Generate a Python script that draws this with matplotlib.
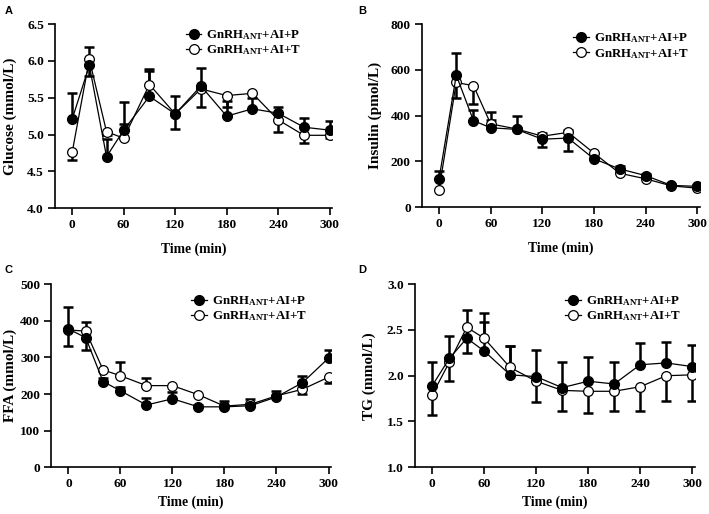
import numpy as np
import matplotlib
matplotlib.use('Agg')
from matplotlib import pyplot as plt

plt.rcParams['font.family'] = ['Liberation Serif', 'DejaVu Serif']
plt.rcParams['font.weight'] = 'bold'
plt.rcParams['axes.labelweight'] = 'bold'
plt.rcParams['mathtext.fontset'] = 'custom'
plt.rcParams['mathtext.rm'] = 'Liberation Serif:bold'
plt.rcParams['mathtext.it'] = 'Liberation Serif:bold'
plt.rcParams['mathtext.bf'] = 'Liberation Serif:bold'

time = np.array([0, 20, 40, 60, 90, 120, 150, 180, 210, 240, 270, 300])
legend_p = r'GnRH$_{\mathrm{ANT}}$+AI+P'
legend_t = r'GnRH$_{\mathrm{ANT}}$+AI+T'

# A - glucose
glu_p = [5.21, 5.94, 4.70, 5.06, 5.52, 5.28, 5.66, 5.25, 5.35, 5.29, 5.10, 5.06]
glu_t = [4.76, 6.02, 5.04, 4.95, 5.68, 5.28, 5.62, 5.53, 5.56, 5.20, 4.99, 4.99]
glu_p_up = [0.36, 0.25, 0.24, 0.38, 0.35, 0.25, 0.25, 0.20, 0.14, 0.09, 0.13, 0.13]
glu_t_dn = [0.11, 0.22, 0.05, 0.00, 0.00, 0.21, 0.24, 0.15, 0.00, 0.17, 0.10, 0.03]
glu_t_up = [0.00, 0.00, 0.00, 0.19, 0.21, 0.00, 0.00, 0.00, 0.00, 0.00, 0.00, 0.00]

# B - insulin
ins_p = [124, 577, 378, 347, 340, 297, 302, 211, 167, 138, 95, 91]
ins_t = [77, 545, 531, 364, 342, 310, 327, 236, 148, 124, 93, 83]
ins_p_up = [32, 98, 47, 35, 58, 28, 35, 10, 15, 8, 5, 5]
ins_t_dn = [0, 69, 82, 0, 0, 48, 80, 0, 0, 0, 0, 0]
ins_t_up = [0, 0, 0, 52, 0, 0, 0, 0, 0, 0, 0, 0]

# C - FFA
ffa_p = [378, 354, 234, 209, 170, 187, 165, 165, 168, 192, 231, 298]
ffa_t = [375, 372, 266, 250, 223, 223, 198, 167, 172, 195, 213, 246]
ffa_p_up = [61, 44, 10, 10, 20, 18, 5, 16, 19, 16, 17, 22]
ffa_t_dn = [44, 52, 0, 0, 0, 0, 0, 0, 0, 0, 13, 15]
ffa_t_up = [0, 0, 0, 37, 22, 0, 0, 0, 0, 0, 0, 0]

# D - TG
tg_p = [1.89, 2.19, 2.41, 2.27, 2.01, 1.99, 1.87, 1.94, 1.91, 2.12, 2.14, 2.10]
tg_t = [1.79, 2.15, 2.53, 2.41, 2.09, 1.94, 1.84, 1.83, 1.83, 1.88, 2.00, 2.01]
tg_p_up = [0.26, 0.24, 0.31, 0.32, 0.31, 0.29, 0.28, 0.26, 0.24, 0.24, 0.23, 0.24]
tg_t_dn = [0.22, 0.21, 0.28, 0.00, 0.00, 0.23, 0.23, 0.24, 0.22, 0.27, 0.28, 0.29]
tg_t_up = [0.00, 0.00, 0.00, 0.28, 0.24, 0.00, 0.00, 0.00, 0.00, 0.00, 0.00, 0.00]


def one_sided(ax, y, err, up):
    y = np.asarray(y, float)
    err = np.asarray(err, float)
    m = err > 0
    if not m.any():
        return
    z = np.zeros(m.sum())
    yerr = [z, err[m]] if up else [err[m], z]
    ax.errorbar(time[m], y[m], yerr=yerr, fmt='none', ecolor='black',
                elinewidth=1.8, capsize=3.4, capthick=1.8, zorder=2)


def panel(ax, p, t, p_up, t_dn, t_up, ylim, yticks, ylabel, fmt, leg_anchor, xpad, ylab_x):
    one_sided(ax, p, p_up, True)
    one_sided(ax, t, t_dn, False)
    one_sided(ax, t, t_up, True)
    ax.plot(time, t, '-o', color='black', lw=0.9, ms=7, mfc='white',
            mec='black', mew=0.9, zorder=3, label=legend_t)
    ax.plot(time, p, '-o', color='black', lw=0.9, ms=7, mfc='black',
            mec='black', zorder=4, label=legend_p)
    ax.set_xlim(-20, 303)
    ax.set_ylim(*ylim)
    ax.set_xticks([0, 60, 120, 180, 240, 300])
    ax.set_yticks(yticks)
    ax.set_yticklabels([fmt.format(v) for v in yticks])
    ax.spines['top'].set_visible(False)
    ax.spines['right'].set_visible(False)
    ax.spines['left'].set_linewidth(1.2)
    ax.spines['bottom'].set_linewidth(1.2)
    ax.tick_params(direction='out', length=5, width=1.2, labelsize=9.6, pad=3)
    ax.set_xlabel('Time (min)', fontsize=9.8, labelpad=xpad)
    ax.set_ylabel(ylabel, fontsize=11)
    ax.yaxis.set_label_coords(ylab_x, 0.5)
    h, l = ax.get_legend_handles_labels()
    ax.legend(h[::-1], l[::-1], loc='upper right', bbox_to_anchor=leg_anchor,
              frameon=False, fontsize=9.3, handlelength=1.2, handletextpad=0.4,
              labelspacing=0.12, borderaxespad=0.0, borderpad=0.0)


fig = plt.figure(figsize=(7.09, 5.14), dpi=100)
axA = fig.add_axes([0.0776, 0.595, 0.391, 0.358])
axB = fig.add_axes([0.595, 0.597, 0.392, 0.356])
axC = fig.add_axes([0.072, 0.091, 0.395, 0.356])
axD = fig.add_axes([0.585, 0.091, 0.395, 0.356])

panel(axA, glu_p, glu_t, glu_p_up, glu_t_dn, glu_t_up, (4.0, 6.5),
      [4.0, 4.5, 5.0, 5.5, 6.0, 6.5], 'Glucose (mmol/L)', '{:.1f}',
      (0.89, 0.978), 8, -0.138)
panel(axB, ins_p, ins_t, ins_p_up, ins_t_dn, ins_t_up, (0, 800),
      [0, 200, 400, 600, 800], 'Insulin (pmol/L)', '{:.0f}',
      (0.962, 0.96), 8, -0.145)
panel(axC, ffa_p, ffa_t, ffa_p_up, ffa_t_dn, ffa_t_up, (0, 500),
      [0, 100, 200, 300, 400, 500], 'FFA (mmol/L)', '{:.0f}',
      (0.915, 0.945), 4, -0.122)
panel(axD, tg_p, tg_t, tg_p_up, tg_t_dn, tg_t_up, (1.0, 3.0),
      [1.0, 1.5, 2.0, 2.5, 3.0], 'TG (mmol/L)', '{:.1f}',
      (0.952, 0.945), 4, -0.137)

for letter, x, y in [('A', 0.006, 0.988), ('B', 0.505, 0.988),
                     ('C', 0.006, 0.485), ('D', 0.505, 0.485)]:
    fig.text(x, y, letter, fontsize=8, family='Liberation Sans',
             weight='bold', va='top', ha='left')

fig.savefig('out.png', dpi=100)
